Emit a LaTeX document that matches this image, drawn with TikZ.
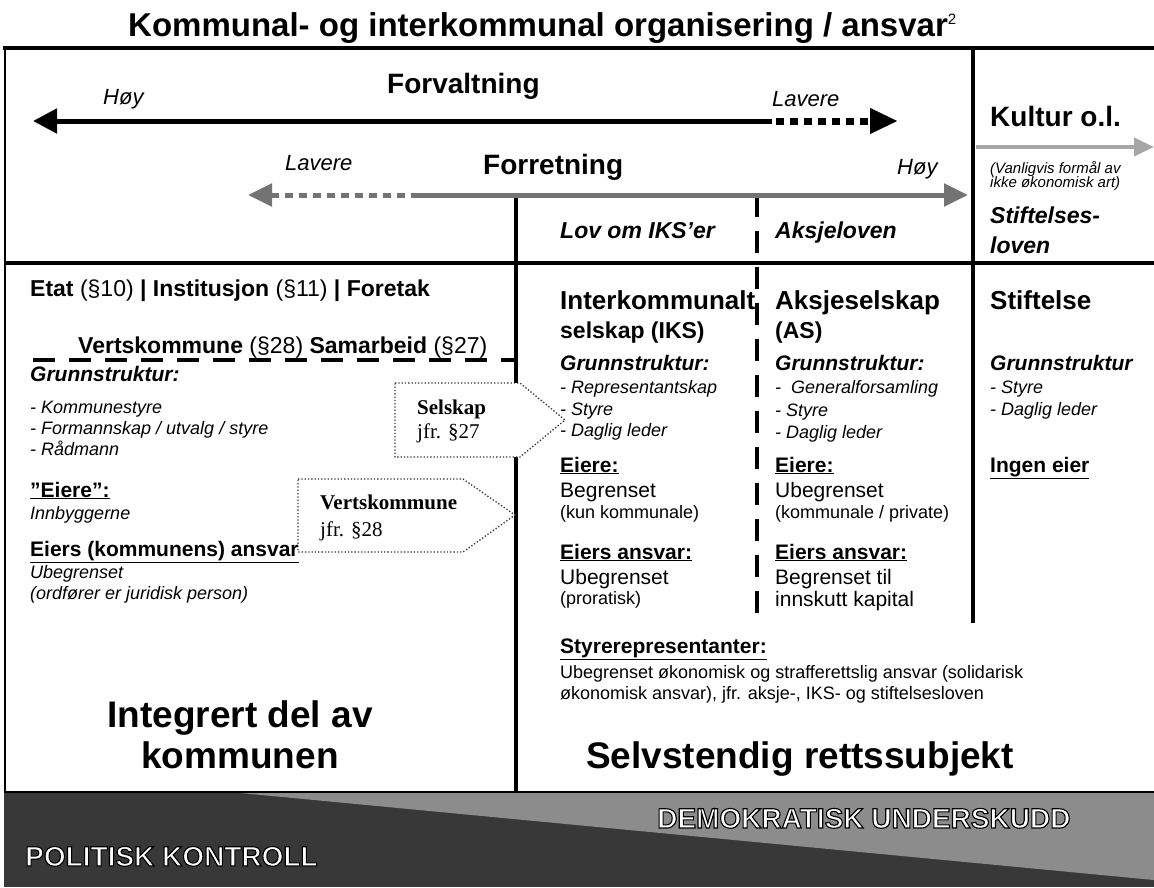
\documentclass[tikz,border=0pt]{standalone}
\usepackage{fontspec}
\setmainfont{Liberation Sans}
\newfontfamily\serifbox{Liberation Serif}
\newfontface\bandface{Liberation Sans Bold}[RawFeature={embolden=4}]
\usetikzlibrary{arrows.meta, positioning, calc}

\tikzstyle{txt} = [anchor=base west, inner sep=0pt]
\tikzstyle{head} = [txt, font={\fontsize{28}{32}\selectfont\bfseries}]
\tikzstyle{scaleword} = [txt, font={\fontsize{22}{26}\selectfont\itshape}]
\tikzstyle{lawname} = [txt, font={\fontsize{23}{27}\selectfont\bfseries\itshape}]
\tikzstyle{formname} = [txt, font={\fontsize{26}{30}\selectfont\bfseries}]
\tikzstyle{formsub} = [txt, font={\fontsize{23}{27}\selectfont\bfseries}]
\tikzstyle{structhead} = [txt, font={\fontsize{21}{25}\selectfont\bfseries\itshape}]
\tikzstyle{listitem} = [txt, font={\fontsize{18}{21}\selectfont\itshape}]
\tikzstyle{ownerhead} = [txt, font={\fontsize{21}{25}\selectfont\bfseries}]
\tikzstyle{bigval} = [txt, font={\fontsize{21}{25}\selectfont}]
\tikzstyle{smallval} = [txt, font={\fontsize{18}{21}\selectfont}]
\tikzstyle{bigtitle} = [anchor=base, inner sep=0pt, font={\fontsize{37}{42}\selectfont\bfseries}]
\tikzstyle{bandtext} = [txt, text=white, font={\fontsize{28}{32}\selectfont\bandface}]
\tikzstyle{callout} = [draw=black!80, dotted, line width=1.3pt, fill=white]
\tikzstyle{callouttext} = [txt, font={\fontsize{21}{24}\selectfont\serifbox}]
\tikzstyle{gridline} = [line width=3.5pt]
\tikzstyle{lawsplit} = [line width=4pt, dash pattern=on 22pt off 14pt]

% white letters with a black rim (stroke colour set after the fill colour)
\newcommand{\rimtext}[1]{\special{pdf:code 0 G}#1}

\begin{document}
\begin{tikzpicture}[x=1pt, y=-1pt]
    \useasboundingbox (0,0) rectangle (1154,887);

    % title
    \node (title) [txt, font={\fontsize{33}{37}\selectfont\bfseries}] at (128,36) {Kommunal- og interkommunal organisering / ansvar\raisebox{12pt}{\fontsize{15}{15}\selectfont\mdseries 2}};

    % table lines
    \draw [gridline] (3,48) -- (1154,48);
    \draw [line width=2pt] (5,48) -- (5,792);
    \draw [gridline] (5,263) -- (1154,263);
    \draw [line width=4pt] (973,48) -- (973,623);
    \draw [gridline] (516,195) -- (516,792);
    \draw [lawsplit] (757,195) -- (757,623);
    \draw [lawsplit] (33,360) -- (516,360);

    % scale arrows
    \coordinate (fvL) at (33,121);
    \coordinate (fvR) at (898,121);
    \coordinate (frL) at (248,195);
    \coordinate (frR) at (968,195);
    \coordinate (kuL) at (976,147);
    \coordinate (kuR) at (1154,147);
    \draw [line width=5pt, {Triangle[length=24pt, width=24pt]}-] (fvL) -- (772,121);
    \draw [line width=7pt, dash pattern=on 8pt off 6pt, -{Triangle[length=28pt, width=24pt]}] (776,121) -- (fvR);
    \draw [line width=5pt, black!55, dash pattern=on 8pt off 6pt, {Triangle[length=24pt, width=22pt]}-] (frL) -- (415,195);
    \draw [line width=5pt, black!55, -{Triangle[length=24pt, width=22pt]}] (415,195) -- (frR);
    \draw [line width=4pt, black!35, -{Triangle[length=20pt, width=18pt]}] (kuL) -- (kuR);

    \node (hoyA) [scaleword] at (103,104) {Høy};
    \node (forvaltning) [head] at (387,93) {Forvaltning};
    \node (lavereA) [scaleword] at (772,106) {Lavere};
    \node (lavereB) [scaleword] at (285,170) {Lavere};
    \node (forretning) [head] at (483,174) {Forretning};
    \node (hoyB) [scaleword] at (897,174) {Høy};
    \node (kultur) [head] at (990,126) {Kultur o.l.};
    \node (vanligvisA) [txt, font={\fontsize{15}{17}\selectfont\itshape}] at (990,173) {(Vanligvis formål av};
    \node (vanligvisB) [txt, font={\fontsize{15}{17}\selectfont\itshape}] at (990,187) {ikke økonomisk art)};
    \node (stiftlovA) [lawname] at (990,223) {Stiftelses-};
    \node (stiftlovB) [lawname] at (990,253) {loven};
    \node (ikslov) [lawname] at (560,238) {Lov om IKS’er};
    \node (aksjelov) [lawname] at (775,238) {Aksjeloven};

    % integrert del av kommunen
    \node (etat) [txt, font={\fontsize{23}{27}\selectfont}] at (30,296) {\textbf{Etat} (§10) \textbf{| Institusjon} (§11) \textbf{| Foretak}};
    \node (verts) [txt, font={\fontsize{23}{27}\selectfont}] at (78,353) {\textbf{Vertskommune} (§28) \textbf{Samarbeid} (§27)};
    \node (grunnL) [structhead] at (30,381) {Grunnstruktur:};
    \node (kstyre) [listitem] at (30,413) {- Kommunestyre};
    \node (fskap) [listitem] at (30,434) {- Formannskap / utvalg / styre};
    \node (radmann) [listitem] at (30,455) {- Rådmann};
    \node (eiereL) [ownerhead] at (30,497) {\underline{”Eiere”:}};
    \node (innb) [listitem] at (30,519) {Innbyggerne};
    \node (ansvarL) [ownerhead] at (30,556) {\underline{Eiers (kommunens) ansvar}};
    \node (ubegrL) [listitem] at (30,578) {Ubegrenset};
    \node (ordforer) [listitem] at (30,599) {(ordfører er juridisk person)};
    \node (integrert) [bigtitle] at (240,727) {Integrert del av};
    \node (kommunen) [bigtitle] at (240,768) {kommunen};

    % interkommunalt selskap
    \node (iksA) [formname] at (560,309) {Interkommunalt};
    \node (iksB) [formsub] at (560,338) {selskap (IKS)};
    \node (grunnI) [structhead] at (560,370) {Grunnstruktur:};
    \node (repr) [listitem] at (560,393) {- Representantskap};
    \node (styreI) [listitem] at (560,415) {- Styre};
    \node (dagligI) [listitem] at (560,436) {- Daglig leder};
    \node (eiereI) [ownerhead] at (560,472) {\underline{Eiere:}};
    \node (begrI) [bigval] at (560,497) {Begrenset};
    \node (kunkomm) [smallval] at (560,518) {(kun kommunale)};
    \node (ansvarI) [ownerhead] at (560,559) {\underline{Eiers ansvar:}};
    \node (ubegrI) [bigval] at (560,584) {Ubegrenset};
    \node (prorat) [smallval] at (560,604) {(proratisk)};

    % aksjeselskap
    \node (asA) [formname] at (775,309) {Aksjeselskap};
    \node (asB) [formsub] at (775,338) {(AS)};
    \node (grunnA) [structhead] at (775,370) {Grunnstruktur:};
    \node (genf) [listitem] at (775,393) {-~ Generalforsamling};
    \node (styreA) [listitem] at (775,416) {- Styre};
    \node (dagligA) [listitem] at (775,438) {- Daglig leder};
    \node (eiereA) [ownerhead] at (775,472) {\underline{Eiere:}};
    \node (ubegrA) [bigval] at (775,497) {Ubegrenset};
    \node (kommpriv) [smallval] at (775,518) {(kommunale / private)};
    \node (ansvarA) [ownerhead] at (775,559) {\underline{Eiers ansvar:}};
    \node (begrtil) [bigval] at (775,584) {Begrenset til};
    \node (innskutt) [bigval] at (775,606) {innskutt kapital};

    % stiftelse
    \node (stiftelse) [formname] at (990,309) {Stiftelse};
    \node (grunnS) [structhead] at (990,370) {Grunnstruktur};
    \node (styreS) [listitem] at (990,393) {- Styre};
    \node (dagligS) [listitem] at (990,415) {- Daglig leder};
    \node (ingen) [ownerhead] at (990,472) {\underline{Ingen eier}};

    % styrerepresentanter
    \node (styrerep) [ownerhead] at (560,653) {\underline{Styrerepresentanter:}};
    \node (solidA) [smallval] at (560,678) {Ubegrenset økonomisk og strafferettslig ansvar (solidarisk};
    \node (solidB) [smallval] at (560,699) {økonomisk ansvar), jfr. aksje-, IKS- og stiftelsesloven};
    \node (selvstendig) [bigtitle] at (800,768) {Selvstendig rettssubjekt};

    % callouts
    \draw [callout] (395,383) -- (520,383) -- (565,420) -- (520,457) -- (395,457) -- cycle;
    \node (selskap) [callouttext] at (417,414) {\textbf{Selskap}};
    \node (jfrA) [callouttext] at (417,438) {jfr. §27};
    \draw [callout] (298,479) -- (463,479) -- (515,515) -- (463,552) -- (298,552) -- cycle;
    \node (vertskomm) [callouttext] at (320,509) {\textbf{Vertskommune}};
    \node (jfrB) [callouttext] at (320,536) {jfr. §28};

    % bottom band
    \fill [black!78] (4,792) rectangle (1154,887);
    \fill [black!45] (230,792) -- (1154,792) -- (1154,880) -- cycle;
    \draw [line width=1.5pt] (4,792) -- (1154,792);
    \node (demokratisk) [bandtext] at (657,828) {\rimtext{DEMOKRATISK UNDERSKUDD}};
    \node (politisk) [bandtext] at (25,866) {\rimtext{POLITISK KONTROLL}};
\end{tikzpicture}
\end{document}
